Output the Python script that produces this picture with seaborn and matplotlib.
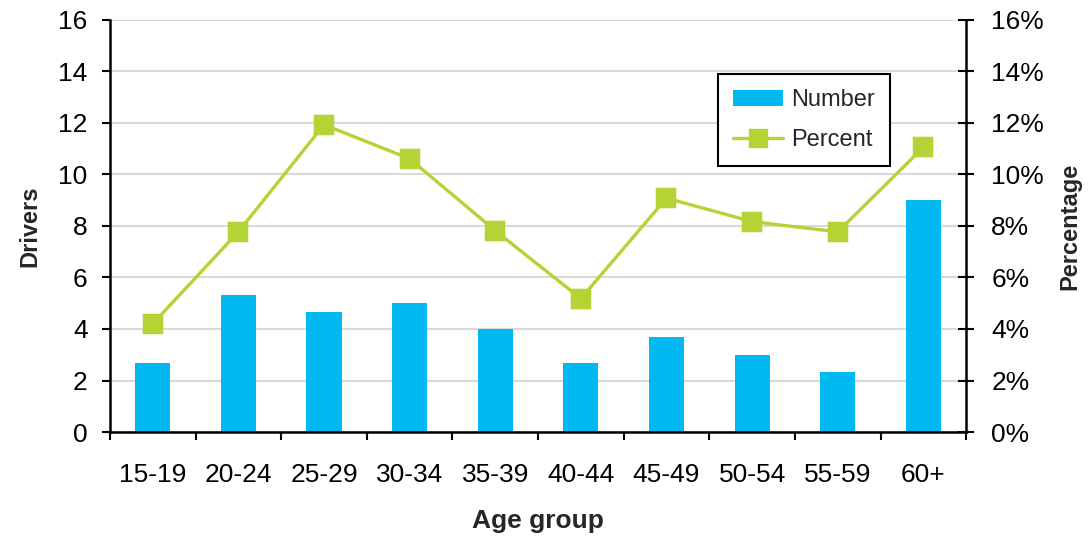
import matplotlib
matplotlib.use("Agg")
import matplotlib.pyplot as plt
import numpy as np
import pandas as pd
import seaborn as sns
from matplotlib.lines import Line2D
from matplotlib.patches import Patch
from matplotlib.ticker import FixedLocator, FuncFormatter

# Driver counts and share by age group
age_groups = ["15-19", "20-24", "25-29", "30-34", "35-39",
              "40-44", "45-49", "50-54", "55-59", "60+"]
drivers = [2.67, 5.33, 4.67, 5.0, 4.0, 2.67, 3.67, 3.0, 2.33, 9.0]
percent = [4.2, 7.77, 11.93, 10.61, 7.82, 5.18, 9.08, 8.17, 7.77, 11.05]
left_ticks = [0, 2, 4, 6, 8, 10, 12, 14, 16]
right_ticks = [0, 2, 4, 6, 8, 10, 12, 14, 16]

BAR = "#00B9F0"
LINE = "#B4D334"
GRID = "#D9D9D9"
TICK_FS = 19

sns.set_theme(style="white")
plt.rcParams["font.family"] = ["Liberation Sans", "DejaVu Sans"]

df = pd.DataFrame({"age": age_groups, "drivers": drivers, "percent": percent})

fig = plt.figure(figsize=(10.88, 5.38), dpi=100)
ax = fig.add_axes([0.101, 0.197, 0.787, 0.766])

sns.barplot(data=df, x="age", y="drivers", ax=ax, color=BAR,
            saturation=1, width=0.41, linewidth=0, zorder=2)

ax2 = ax.twinx()
sns.pointplot(data=df, x="age", y="percent", ax=ax2, color=LINE,
              markers="s", markersize=12.5, linewidth=2.4, zorder=3)

n = len(age_groups)
ax.set_xlim(-0.5, n - 0.5)
ax.set_ylim(0, 16)
ax2.set_ylim(0, 16)

# horizontal gridlines
ax.set_axisbelow(True)
ax.yaxis.set_major_locator(FixedLocator(left_ticks))
ax.grid(axis="y", color=GRID, linewidth=1.5)
ax.grid(axis="x", visible=False)
ax2.grid(False)

# category labels centred, tick marks on the boundaries
ax.set_xticks(range(n))
ax.set_xticklabels(age_groups)
ax.set_xticks(np.arange(-0.5, n, 1.0), minor=True)
ax.tick_params(axis="x", which="major", length=0, pad=22,
               labelsize=TICK_FS, colors="black")
ax.tick_params(axis="x", which="minor", length=6, width=1.5, direction="out",
               color="black", bottom=True)

ax.tick_params(axis="y", which="major", length=6, width=1.5, direction="out",
               pad=10, labelsize=TICK_FS, left=True, colors="black")
ax2.yaxis.set_major_locator(FixedLocator(right_ticks))
ax2.yaxis.set_major_formatter(FuncFormatter(lambda v, p: f"{v:.0f}%"))
ax2.tick_params(axis="y", which="major", length=12, width=1.5,
                direction="inout", pad=12, labelsize=TICK_FS, right=True,
                colors="black")

for a in (ax, ax2):
    a.spines["top"].set_visible(False)
ax.spines["right"].set_visible(False)
ax2.spines["left"].set_visible(False)
ax2.spines["bottom"].set_visible(False)
for s in ("left", "bottom"):
    ax.spines[s].set_color("black")
    ax.spines[s].set_linewidth(1.8)
ax2.spines["right"].set_color("black")
ax2.spines["right"].set_linewidth(1.8)

ax.set_xlabel("Age group", fontsize=19, fontweight="bold", labelpad=16)
ax.set_ylabel("Drivers", fontsize=17, fontweight="bold", labelpad=12)
ax2.set_ylabel("Percentage", fontsize=17, fontweight="bold", labelpad=10)

handles = [
    Patch(facecolor=BAR, edgecolor="none"),
    Line2D([], [], color=LINE, marker="s", markersize=12.5, linewidth=2.4),
]
leg = ax2.legend(handles, ["Number", "Percent"], loc="upper left",
                 bbox_to_anchor=(0.710, 0.869), borderaxespad=0,
                 fontsize=17, frameon=True, fancybox=False, framealpha=1,
                 edgecolor="black", handlelength=2.1, handletextpad=0.35,
                 labelspacing=0.75, borderpad=0.65)
leg.get_frame().set_linewidth(1.5)

fig.savefig("out.png", dpi=100)
